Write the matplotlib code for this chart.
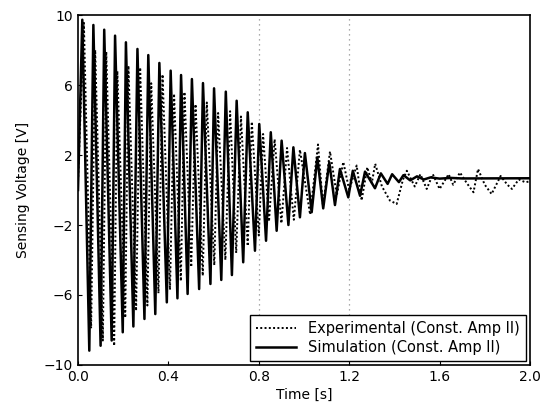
import matplotlib
matplotlib.use("Agg")
import matplotlib.pyplot as plt

# Simulation (Const. Amp II): successive extrema (time [s], voltage [V])
sim_t = [0.000, 0.019, 0.050, 0.068, 0.100, 0.116, 0.149, 0.164, 0.198, 0.212, 0.245,
         0.263, 0.294, 0.311, 0.342, 0.360, 0.393, 0.410, 0.440, 0.456, 0.485, 0.504,
         0.536, 0.553, 0.586, 0.602, 0.634, 0.654, 0.681, 0.702, 0.731, 0.751, 0.783,
         0.802, 0.832, 0.853, 0.879, 0.901, 0.931, 0.953, 0.982, 1.004, 1.034, 1.059,
         1.085, 1.112, 1.137, 1.159, 1.196, 1.216, 1.248, 1.270, 1.314, 1.340, 1.370,
         1.390, 1.420, 1.440, 1.470, 1.500, 1.530, 1.560, 1.600, 1.650, 1.700, 2.000]
sim_v = [0.00, 9.73, -9.18, 9.43, -8.90, 9.16, -8.60, 8.82, -8.13, 8.44, -7.80,
         8.06, -7.37, 7.71, -7.09, 7.26, -6.42, 6.82, -6.19, 6.57, -5.94, 6.34,
         -5.66, 6.11, -5.37, 5.81, -5.14, 5.62, -4.86, 5.10, -4.13, 4.44, -3.47,
         3.77, -2.90, 3.30, -2.33, 2.82, -2.00, 2.44, -1.56, 2.11, -1.27, 1.87,
         -1.05, 1.58, -0.86, 1.20, -0.42, 1.10, -0.33, 1.05, 0.10, 0.95, 0.35,
         0.90, 0.45, 0.85, 0.55, 0.78, 0.60, 0.72, 0.65, 0.69, 0.66, 0.67]

# Experimental (Const. Amp II): successive extrema
exp_t = [0.000, 0.026, 0.058, 0.076, 0.110, 0.125, 0.160, 0.174, 0.209, 0.223, 0.257,
         0.275, 0.307, 0.324, 0.356, 0.374, 0.407, 0.425, 0.455, 0.471, 0.501, 0.520,
         0.552, 0.570, 0.603, 0.620, 0.652, 0.673, 0.700, 0.721, 0.751, 0.769, 0.800,
         0.819, 0.845, 0.870, 0.900, 0.925, 0.955, 0.982, 1.027, 1.062, 1.084, 1.115,
         1.145, 1.174, 1.200, 1.233, 1.255, 1.280, 1.300, 1.315, 1.345, 1.380, 1.410,
         1.438, 1.455, 1.490, 1.515, 1.543, 1.570, 1.600, 1.640, 1.660, 1.690, 1.720,
         1.750, 1.770, 1.800, 1.830, 1.870, 1.900, 1.920, 1.950, 1.980, 2.000]
exp_v = [0.50, 9.55, -7.90, 8.00, -8.60, 7.90, -8.90, 6.80, -7.30, 7.10, -6.90,
         7.00, -6.60, 6.10, -5.90, 6.60, -5.70, 5.50, -5.20, 5.60, -4.40, 4.90,
         -4.90, 5.00, -4.30, 4.40, -4.00, 4.50, -3.60, 4.20, -3.20, 3.90, -2.60,
         3.20, -1.80, 2.90, -1.90, 2.40, -1.70, 2.30, -1.40, 2.60, -0.90, 2.20,
         -0.30, 1.60, 0.00, 1.40, -0.60, 1.30, 0.40, 1.50, 0.20, -0.60, -0.80,
         0.60, 1.10, 0.20, 0.90, 0.06, 0.90, 0.06, 0.90, 0.30, 1.00, 0.40,
         -0.13, 1.20, 0.30, -0.23, 0.80, 0.30, 0.06, 0.60, 0.44, 0.50]

x_ticks = [0.0, 0.4, 0.8, 1.2, 1.6, 2.0]
y_ticks = [-10, -6, -2, 2, 6, 10]
grid_x = [0.8, 1.2]

fig = plt.figure(figsize=(5.43, 4.08), dpi=100)
ax = fig.add_axes([78/543, 1-365/408, (530-78)/543, (365-15)/408])

for xv in grid_x:
    ax.axvline(xv, color="#909090", ls=(0, (1, 3)), lw=0.9, zorder=0)

ax.plot(exp_t, exp_v, color="black", ls=(0, (1, 1.2)), lw=1.4,
        label="Experimental (Const. Amp II)", zorder=2)
ax.plot(sim_t, sim_v, color="black", ls="-", lw=1.8,
        label="Simulation (Const. Amp II)", zorder=3)

ax.set_xlim(0, 2.0)
ax.set_ylim(-10, 10)
ax.set_xticks(x_ticks)
ax.set_xticklabels([f"{v:.1f}" for v in x_ticks])
ax.set_yticks(y_ticks)
ax.tick_params(direction="in", length=3, labelsize=10)
for s in ax.spines.values():
    s.set_linewidth(1.2)

ax.set_xlabel("Time [s]", fontsize=10, labelpad=3)
ax.set_ylabel("Sensing Voltage [V]", fontsize=10, labelpad=10)

leg = ax.legend(loc="lower right", fontsize=10.5, frameon=True, fancybox=False,
                edgecolor="black", framealpha=1, borderaxespad=0.3,
                handlelength=2.8, labelspacing=0.25)
leg.get_frame().set_linewidth(1.0)

fig.savefig("out.png", dpi=100)
